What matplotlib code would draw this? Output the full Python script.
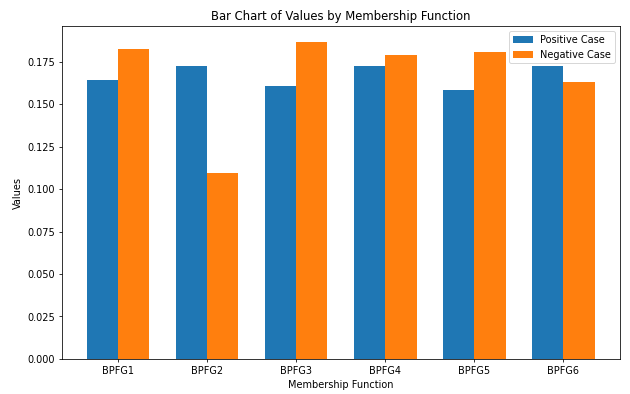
import numpy as np
import matplotlib
matplotlib.use('Agg')
import matplotlib.pyplot as plt

# 数据
functions = ['BPFG1', 'BPFG2', 'BPFG3', 'BPFG4', 'BPFG5', 'BPFG6']
positive = [0.1643, 0.1724, 0.1608, 0.1724, 0.1586, 0.1724]
negative = [0.1825, 0.1094, 0.1868, 0.1792, 0.1805, 0.1632]

x = np.arange(len(functions))
width = 0.35

fig, ax = plt.subplots(figsize=(9, 5.63), dpi=70)
ax.bar(x - width / 2, positive, width, label='Positive Case')
ax.bar(x + width / 2, negative, width, label='Negative Case')

ax.set_title('Bar Chart of Values by Membership Function')
ax.set_xlabel('Membership Function')
ax.set_ylabel('Values')
ax.set_xticks(x)
ax.set_xticklabels(functions)
ax.legend()

plt.subplots_adjust(left=0.098, right=0.984, top=0.934, bottom=0.089)
plt.savefig('out.png')
